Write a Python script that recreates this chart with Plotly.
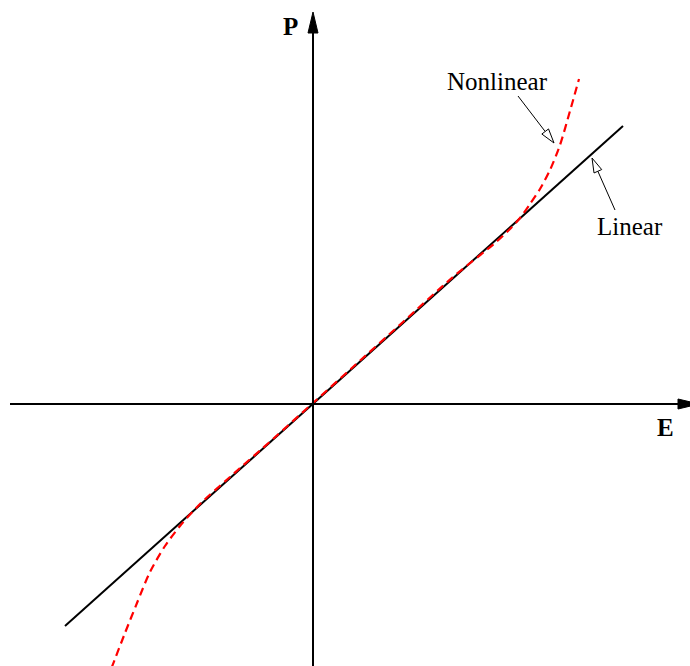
import math
import plotly.graph_objects as go

# Polarization P versus applied field E (arbitrary units)
linear_E = [-2.48, 3.10]
linear_P = [-2.22, 2.78]

nonlinear_E = [-2.015, -1.88, -1.76, -1.63, -1.48, -1.33, -1.13, -0.83, -0.40, 0.00,
               0.40, 0.90, 1.40, 1.82, 1.97, 2.07, 2.17, 2.27, 2.37, 2.47, 2.57, 2.66]
nonlinear_P = [-2.64, -2.29, -1.99, -1.68, -1.42, -1.22, -1.00, -0.73, -0.35, 0.01,
               0.37, 0.82, 1.27, 1.61, 1.75, 1.86, 2.00, 2.15, 2.34, 2.59, 2.93, 3.25]

# visible window of the E-P plane
E_RANGE = [-3.13, 3.77]
P_RANGE = [-2.62, 4.04]

FONT = "Liberation Serif"


def head_path(tail, tip, length, half_width):
    """Triangle arrow head pointing from tail towards tip."""
    dx, dy = tip[0] - tail[0], tip[1] - tail[1]
    n = math.hypot(dx, dy)
    ux, uy = dx / n, dy / n
    bx, by = tip[0] - ux * length, tip[1] - uy * length
    nx, ny = -uy * half_width, ux * half_width
    return (f"M{tip[0]},{tip[1]} L{bx + nx},{by + ny} "
            f"L{bx - nx},{by - ny} Z"), (bx, by)


fig = go.Figure()

fig.add_trace(go.Scatter(
    x=linear_E, y=linear_P, mode="lines",
    line=dict(color="black", width=2), hoverinfo="skip", showlegend=False))

fig.add_trace(go.Scatter(
    x=nonlinear_E, y=nonlinear_P, mode="lines",
    line=dict(color="#ff0000", width=2.2, dash="8px,5px", shape="spline", smoothing=0.8),
    hoverinfo="skip", showlegend=False))

shapes = []

# coordinate axes with solid arrow heads
e_axis = ((-3.03, 0.0), (3.86, 0.0))
p_axis = ((0.0, -2.70), (0.0, 3.92))
for tail, tip in (e_axis, p_axis):
    path, base = head_path(tail, tip, 0.21, 0.05)
    shapes.append(dict(type="line", xref="x", yref="y",
                       x0=tail[0], y0=tail[1], x1=base[0], y1=base[1],
                       line=dict(color="black", width=2)))
    shapes.append(dict(type="path", xref="x", yref="y", path=path,
                       fillcolor="black", line=dict(color="black", width=1)))

# pointers from the labels to the curves, with open heads
pointers = [((2.05, 3.08), (2.41, 2.61)),
            ((3.02, 1.94), (2.79, 2.46))]
for tail, tip in pointers:
    path, base = head_path(tail, tip, 0.145, 0.042)
    shapes.append(dict(type="line", xref="x", yref="y",
                       x0=tail[0], y0=tail[1], x1=base[0], y1=base[1],
                       line=dict(color="black", width=1)))
    shapes.append(dict(type="path", xref="x", yref="y", path=path,
                       fillcolor="white", line=dict(color="black", width=1)))

labels = [
    ("<b>P</b>", -0.23, 3.775),
    ("<b>E</b>", 3.52, -0.23),
    ("Nonlinear", 1.84, 3.225),
    ("Linear", 3.17, 1.78),
]
annotations = [dict(text=t, x=x, y=y, xref="x", yref="y", showarrow=False,
                    xanchor="center", yanchor="middle",
                    font=dict(family=FONT, size=25, color="black"))
               for t, x, y in labels]

fig.update_layout(
    width=690, height=666,
    margin=dict(l=0, r=0, t=0, b=0),
    paper_bgcolor="white", plot_bgcolor="white",
    xaxis=dict(range=E_RANGE, visible=False, fixedrange=True),
    yaxis=dict(range=P_RANGE, visible=False, fixedrange=True),
    shapes=shapes, annotations=annotations,
)

fig.write_html("out.html")
